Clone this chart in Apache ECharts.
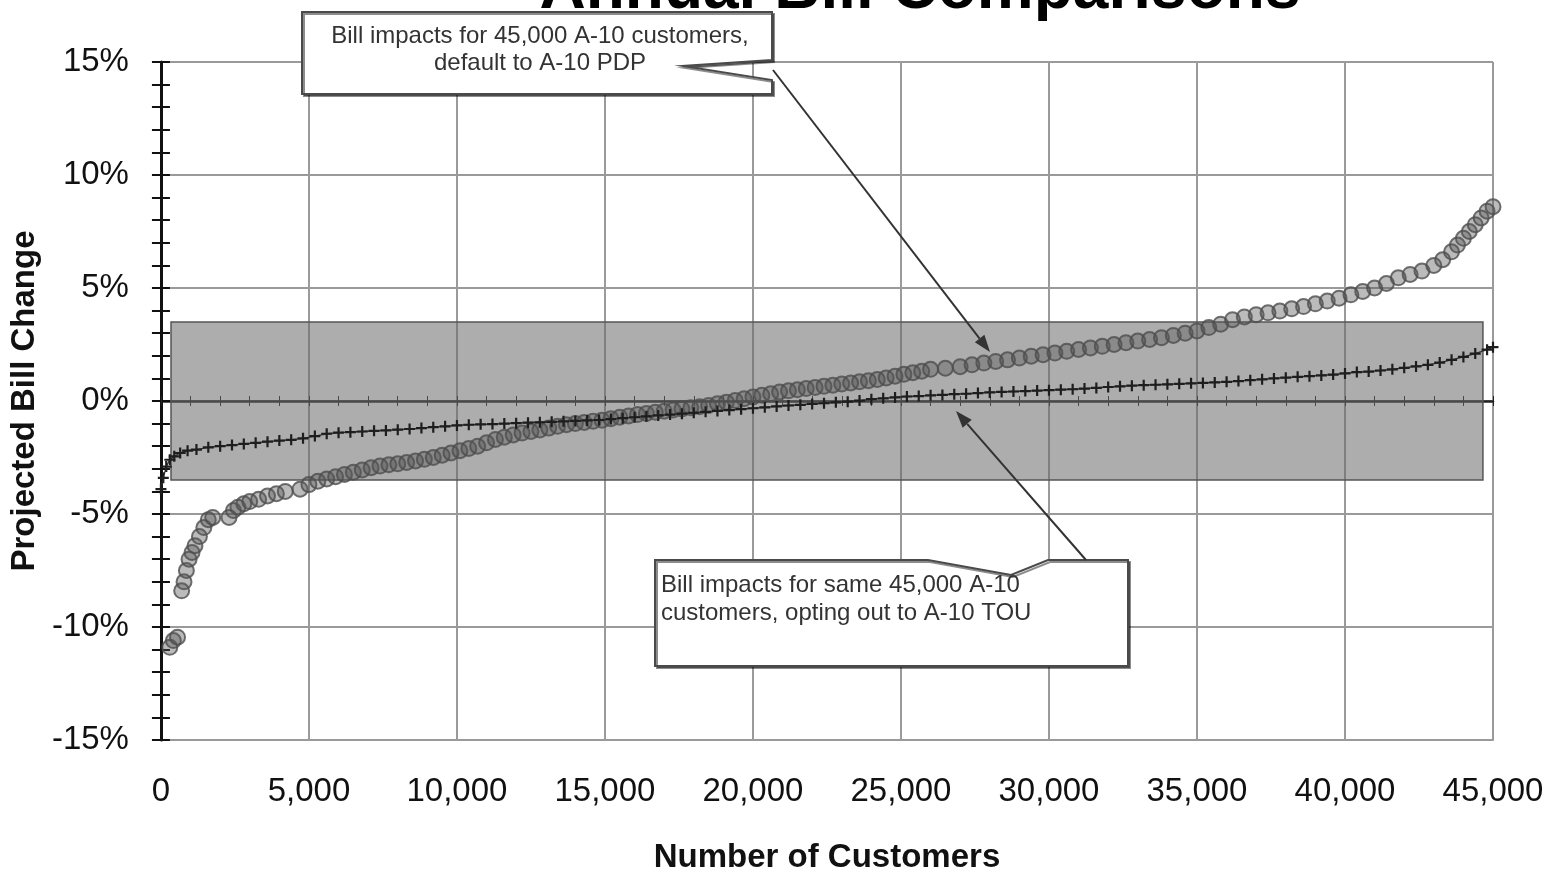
<!DOCTYPE html>
<html>
<head>
<meta charset="utf-8">
<script src="https://cdn.jsdelivr.net/npm/echarts@6/dist/echarts.min.js"></script>
<style>
html,body{margin:0;padding:0;background:#fff;}
#chart{width:1548px;height:879px;}
</style>
</head>
<body>
<div id="chart"></div>
<script>
// ---- data ----
const titleText = 'Annual Bill Comparisons';
const xAxisName = 'Number of Customers';
const yAxisName = 'Projected Bill Change';
const calloutPdp = 'Bill impacts for 45,000 A-10 customers,\ndefault to A-10 PDP';
const calloutTou = 'Bill impacts for same 45,000 A-10\ncustomers, opting out to A-10 TOU';

// band of +/- 3.5 % (shaded) spanning customers
const bandRange = [340, 44660];
const bandPct = [-3.5, 3.5];

// PDP default (circles)
const pdpCustomers = [300,420,560,700,780,860,950,1050,1150,1300,1450,1600,1750,2300,2450,2600,2800,3000,3300,3600,3900,4200,4700,5000,5300,5600,5900,6200,6500,6800,7100,7400,7700,8000,8300,8600,8900,9200,9500,9800,10100,10400,10700,11000,11300,11600,11900,12200,12500,12800,13100,13400,13700,14000,14300,14600,14900,15200,15500,15800,16100,16400,16700,17000,17300,17600,17900,18200,18500,18800,19100,19400,19700,20000,20300,20600,20900,21200,21500,21800,22100,22400,22700,23000,23300,23600,23900,24200,24500,24800,25100,25400,25700,26000,26500,27000,27400,27800,28200,28600,29000,29400,29800,30200,30600,31000,31400,31800,32200,32600,33000,33400,33800,34200,34600,35000,35400,35800,36200,36600,37000,37400,37800,38200,38600,39000,39400,39800,40200,40600,41000,41400,41800,42200,42600,43000,43300,43600,43800,44000,44200,44400,44600,44800,45000];
const pdpChange = [-10.9,-10.6,-10.45,-8.4,-8.0,-7.5,-7.0,-6.7,-6.4,-6.0,-5.6,-5.25,-5.15,-5.15,-4.85,-4.7,-4.55,-4.45,-4.35,-4.2,-4.1,-4.0,-3.9,-3.7,-3.55,-3.45,-3.35,-3.25,-3.15,-3.05,-2.95,-2.88,-2.82,-2.78,-2.72,-2.65,-2.58,-2.5,-2.4,-2.3,-2.2,-2.1,-2.0,-1.85,-1.7,-1.6,-1.5,-1.42,-1.35,-1.28,-1.2,-1.12,-1.05,-1.0,-0.95,-0.9,-0.85,-0.78,-0.72,-0.66,-0.6,-0.55,-0.5,-0.45,-0.4,-0.35,-0.3,-0.25,-0.2,-0.12,-0.05,0.02,0.1,0.18,0.25,0.32,0.4,0.45,0.5,0.55,0.6,0.65,0.7,0.75,0.8,0.85,0.9,0.95,1.02,1.1,1.18,1.25,1.32,1.4,1.45,1.52,1.6,1.68,1.75,1.82,1.9,1.98,2.05,2.12,2.2,2.28,2.35,2.42,2.5,2.58,2.65,2.72,2.8,2.9,3.0,3.1,3.25,3.4,3.6,3.72,3.82,3.9,3.98,4.08,4.18,4.3,4.42,4.55,4.7,4.85,5.0,5.2,5.45,5.6,5.75,6.0,6.25,6.6,6.9,7.2,7.5,7.8,8.1,8.4,8.6];

// TOU opt-out (plus markers)
const touCustomers = [0,80,180,300,450,650,900,1200,1600,2000,2400,2800,3200,3600,4000,4400,4800,5200,5600,6000,6400,6800,7200,7600,8000,8400,8800,9200,9600,10000,10400,10800,11200,11600,12000,12400,12800,13200,13600,14000,14400,14800,15200,15600,16000,16400,16800,17200,17600,18000,18400,18800,19200,19600,20000,20400,20800,21200,21600,22000,22400,22800,23200,23600,24000,24400,24800,25200,25600,26000,26400,26800,27200,27600,28000,28400,28800,29200,29600,30000,30400,30800,31200,31600,32000,32400,32800,33200,33600,34000,34400,34800,35200,35600,36000,36400,36800,37200,37600,38000,38400,38800,39200,39600,40000,40400,40800,41200,41600,42000,42400,42800,43200,43600,44000,44400,44800,45000];
const touChange = [-3.9,-3.4,-2.9,-2.6,-2.45,-2.3,-2.2,-2.15,-2.05,-2.0,-1.95,-1.9,-1.85,-1.8,-1.75,-1.72,-1.65,-1.55,-1.45,-1.4,-1.38,-1.35,-1.32,-1.3,-1.27,-1.24,-1.2,-1.16,-1.12,-1.08,-1.05,-1.03,-1.02,-1.0,-0.98,-0.96,-0.94,-0.92,-0.9,-0.88,-0.86,-0.84,-0.8,-0.76,-0.72,-0.68,-0.64,-0.6,-0.56,-0.52,-0.48,-0.44,-0.4,-0.36,-0.32,-0.28,-0.24,-0.2,-0.17,-0.13,-0.1,-0.06,-0.03,0.02,0.08,0.12,0.16,0.2,0.22,0.25,0.27,0.3,0.32,0.35,0.38,0.4,0.42,0.44,0.46,0.48,0.5,0.52,0.55,0.58,0.62,0.65,0.68,0.7,0.72,0.74,0.76,0.78,0.8,0.82,0.85,0.88,0.92,0.96,1.0,1.03,1.07,1.1,1.13,1.17,1.22,1.28,1.3,1.35,1.4,1.47,1.53,1.6,1.7,1.82,1.95,2.1,2.27,2.38];

// ---- chart ----
const FONT = '"Liberation Sans", Arial, sans-serif';
const chart = echarts.init(document.getElementById('chart'), null, {renderer: 'canvas'});

const pdpData = pdpCustomers.map((c, i) => [c, pdpChange[i]]);
const touData = touCustomers.map((c, i) => [c, touChange[i]]);

function arrow(x1, y1, x2, y2) {
  const dx = x2 - x1, dy = y2 - y1, L = Math.hypot(dx, dy);
  const ux = dx / L, uy = dy / L, hl = 17, hw = 6;
  const bx = x2 - ux * hl, by = y2 - uy * hl;
  return [
    {type: 'line', z: 100, shape: {x1: x1, y1: y1, x2: bx, y2: by}, style: {stroke: '#333', lineWidth: 2}},
    {type: 'polygon', z: 100, shape: {points: [[x2, y2], [bx - uy * hw, by + ux * hw], [bx + uy * hw, by - ux * hw]]}, style: {fill: '#333'}}
  ];
}

const boxStyle = {fill: '#fff', stroke: '#4a4a4a', lineWidth: 2, shadowColor: 'rgba(0,0,0,0.45)', shadowOffsetX: 2, shadowOffsetY: 2, shadowBlur: 0};

const option = {
  animation: false,
  backgroundColor: '#fff',
  grid: {left: 160, right: 55, top: 62, bottom: 131, containLabel: false},
  xAxis: [
    {
      type: 'value', min: 0, max: 45000, interval: 5000,
      position: 'bottom',
      axisLine: {show: true, onZero: false, lineStyle: {color: '#9a9a9a', width: 2}},
      axisTick: {show: false},
      axisLabel: {
        margin: 35, fontSize: 33, color: '#111', fontFamily: FONT,
        formatter: v => v.toLocaleString('en-US')
      },
      splitLine: {show: true, lineStyle: {color: '#9a9a9a', width: 2}},
      name: xAxisName, nameLocation: 'middle', nameGap: 101,
      nameTextStyle: {fontSize: 33, fontWeight: 'bold', color: '#111', fontFamily: FONT}
    },
    {
      type: 'value', min: 0, max: 45000, interval: 1000, position: 'bottom',
      axisLine: {show: true, onZero: true, onZeroAxisIndex: 0, lineStyle: {color: '#222', width: 2.5}},
      axisTick: {show: true, inside: false, length: 5, lineStyle: {color: '#222', width: 1}},
      axisLabel: {show: false}, splitLine: {show: false}
    },
    {
      type: 'value', min: 0, max: 45000, interval: 1000, position: 'bottom',
      axisLine: {show: false, onZero: true, onZeroAxisIndex: 0},
      axisTick: {show: true, inside: true, length: 5, lineStyle: {color: '#222', width: 1}},
      axisLabel: {show: false}, splitLine: {show: false}
    }
  ],
  yAxis: [
    {
      type: 'value', min: -15, max: 15, interval: 5, position: 'left',
      axisLine: {show: false},
      axisTick: {show: false},
      axisLabel: {margin: 32, fontSize: 33, color: '#111', fontFamily: FONT, formatter: v => v + '%'},
      splitLine: {show: true, lineStyle: {color: '#9a9a9a', width: 2}},
      name: yAxisName, nameLocation: 'middle', nameGap: 112, nameRotate: 90,
      nameTextStyle: {fontSize: 33, fontWeight: 'bold', color: '#111', fontFamily: FONT}
    },
    {
      type: 'value', min: -15, max: 15, interval: 1, position: 'left', offset: 0,
      axisLine: {show: true, onZero: false, lineStyle: {color: '#111', width: 3}},
      axisTick: {show: true, inside: false, length: 9, lineStyle: {color: '#111', width: 2}},
      axisLabel: {show: false}, splitLine: {show: false}
    },
    {
      type: 'value', min: -15, max: 15, interval: 1, position: 'left', offset: 0,
      axisLine: {show: false, onZero: false},
      axisTick: {show: true, inside: true, length: 9, lineStyle: {color: '#111', width: 2}},
      axisLabel: {show: false}, splitLine: {show: false}
    }
  ],
  series: [
    {
      name: 'A-10 PDP', type: 'scatter', xAxisIndex: 0, yAxisIndex: 0,
      data: pdpData, symbol: 'circle', symbolSize: 15, z: 3,
      itemStyle: {color: 'rgba(85,85,85,0.5)', borderColor: '#4e4e4e', borderWidth: 2},
      markArea: {
        silent: true,
        itemStyle: {color: 'rgba(105,105,105,0.55)', borderColor: '#555', borderWidth: 1.5},
        data: [[{xAxis: bandRange[0], yAxis: bandPct[1]}, {xAxis: bandRange[1], yAxis: bandPct[0]}]]
      }
    },
    {
      name: 'A-10 TOU', type: 'line', xAxisIndex: 0, yAxisIndex: 0,
      data: touData, showAllSymbol: true, z: 4,
      symbol: 'path://M4,0H6V4H10V6H6V10H4V6H0V4H4Z', symbolSize: 11,
      itemStyle: {color: '#1e1e1e'},
      lineStyle: {color: '#333', width: 1.3}
    }
  ],
  graphic: [
    {type: 'text', z: 100, x: 920, y: -10,
     style: {text: titleText, font: 'bold 64px ' + FONT, fill: '#000', align: 'center', verticalAlign: 'middle', textAlign: 'center', textVerticalAlign: 'middle'}},
    // callout 1 (with notch)
    {type: 'polygon', z: 90, shape: {points: [[302,12],[772,12],[772,60],[683,66],[772,80],[772,94],[302,94]]}, style: boxStyle},
    {type: 'text', z: 101, x: 540, y: 50,
     style: {text: calloutPdp, font: '24px ' + FONT, fill: '#333', lineHeight: 27, align: 'center', verticalAlign: 'middle', textAlign: 'center', textVerticalAlign: 'middle'}},
    // callout 2 (with notch)
    {type: 'polygon', z: 90, shape: {points: [[655,560],[928,560],[1011,575],[1048,560],[1128,560],[1128,666],[655,666]]}, style: boxStyle},
    {type: 'text', z: 101, x: 661, y: 571,
     style: {text: calloutTou, font: '24px ' + FONT, fill: '#333', lineHeight: 28, align: 'left', verticalAlign: 'top', textAlign: 'left', textVerticalAlign: 'top'}}
  ].concat(arrow(773, 70, 990, 352)).concat(arrow(1086, 560, 956, 411))
};

chart.setOption(option);
</script>
</body>
</html>
